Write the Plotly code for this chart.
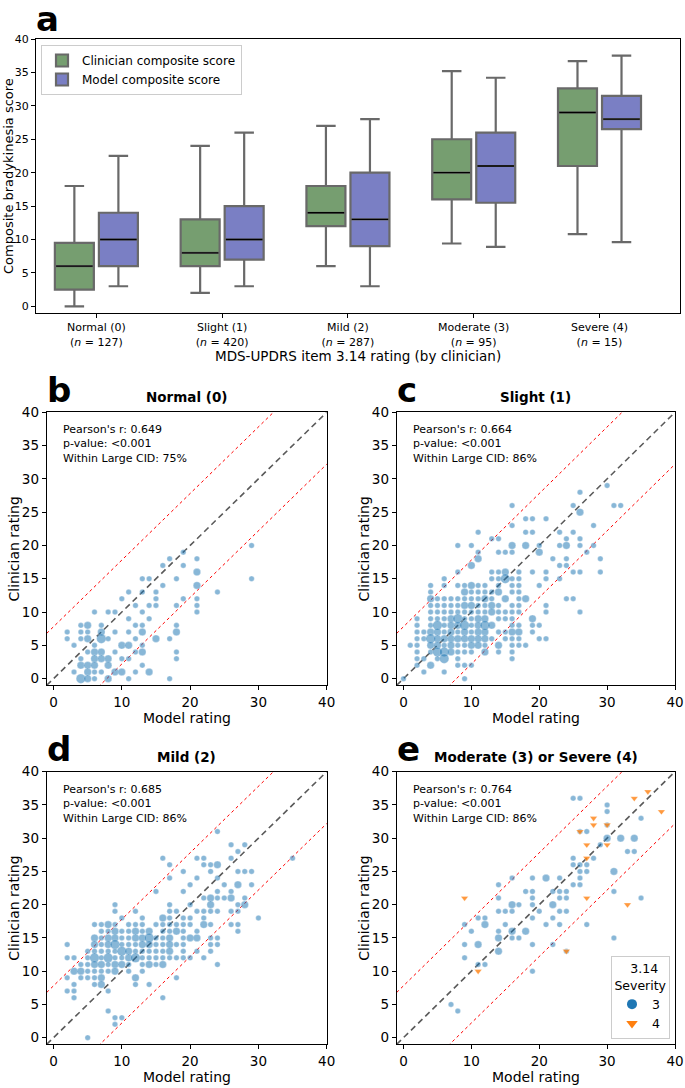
import plotly.graph_objects as go

W, H = 685, 1088

# ---------------- Panel a: box summaries ----------------
categories = ["Normal (0)", "Slight (1)", "Mild (2)", "Moderate (3)", "Severe (4)"]
n_counts = [127, 420, 287, 95, 15]
clin_lower = [0, 2, 6, 9.4, 10.8]
clin_q1 = [2.5, 6, 12, 16, 21]
clin_median = [6, 8, 14, 20, 29]
clin_q3 = [9.5, 13, 18, 25, 32.6]
clin_upper = [18, 24, 27, 35.2, 36.7]
model_lower = [3, 3, 3, 8.9, 9.6]
model_q1 = [6, 7, 9, 15.5, 26.5]
model_median = [10, 10, 13, 21, 28]
model_q3 = [14, 15, 20, 26, 31.5]
model_upper = [22.5, 26, 28, 34.2, 37.5]

# ---------------- Scatter panels: (model rating, clinician rating, count) ----------------
b_points = [
    (29, 20, 1), (19, 19, 1), (17, 18, 1), (21, 18, 1), (16, 17, 1), (19, 17, 1), (21, 16, 2),
    (13, 15, 1), (14, 15, 1), (18, 15, 1), (29, 15, 1), (16, 14, 1), (21, 14, 2),
    (11, 13, 1), (13, 13, 1), (15, 13, 1), (24, 13, 1), (10, 12, 1), (15, 12, 1), (19, 12, 1), (21, 12, 1),
    (12, 11, 1), (14, 11, 1), (15, 11, 1), (18, 11, 1), (21, 11, 1),
    (6, 10, 1), (8, 10, 1), (9, 10, 1), (13, 10, 1), (21, 10, 1), (11, 9, 1), (14, 9, 1),
    (4, 8, 1), (5, 8, 2), (7, 8, 1), (12, 8, 1), (13, 8, 1), (18, 8, 1),
    (2, 7, 1), (4, 7, 1), (5, 7, 1), (7, 7, 2), (9, 7, 1), (11, 7, 1), (13, 7, 2), (18, 7, 2),
    (2, 6, 1), (4, 6, 1), (5, 6, 2), (7, 6, 3), (8, 6, 1), (12, 6, 1), (15, 6, 2), (17, 6, 1),
    (3, 5, 1), (6, 5, 1), (10, 5, 2), (11, 5, 2), (13, 5, 1),
    (5, 4, 1), (6, 4, 2), (7, 4, 2), (9, 4, 1), (12, 4, 1), (13, 4, 2), (18, 4, 1),
    (4, 3, 1), (6, 3, 2), (7, 3, 2), (8, 3, 2), (10, 3, 1), (11, 3, 1), (18, 3, 1),
    (4, 2, 2), (5, 2, 2), (6, 2, 2), (8, 2, 2), (13, 2, 1),
    (3, 1, 1), (5, 1, 2), (6, 1, 1), (7, 1, 1), (9, 1, 2), (10, 1, 2), (12, 1, 1), (14, 1, 2),
    (4, 0, 3), (5, 0, 2), (6, 0, 1), (8, 0, 2), (11, 0, 1), (17, 0, 1),
]

c_points = [
    (30, 29, 1), (26, 28, 1), (16, 26, 1), (25, 26, 1), (31, 26, 1), (32, 26, 1), (26, 25, 2),
    (18, 24, 1), (19, 24, 1), (21, 24, 1), (16, 23, 1), (28, 23, 1),
    (11, 22, 1), (18, 22, 1), (19, 22, 1), (23, 22, 1), (25, 22, 1),
    (13, 21, 1), (14, 21, 1), (24, 21, 1), (26, 21, 1),
    (8, 20, 1), (10, 20, 1), (16, 20, 2), (18, 20, 2), (20, 20, 1), (23, 20, 1), (24, 20, 2), (26, 20, 1), (28, 20, 1),
    (11, 19, 1), (14, 19, 1), (15, 19, 1), (16, 19, 1), (20, 19, 2), (27, 19, 1),
    (11, 18, 2), (22, 18, 1), (24, 18, 1), (29, 18, 1), (10, 17, 2), (23, 17, 1), (24, 17, 1),
    (8, 16, 1), (13, 16, 1), (14, 16, 1), (15, 16, 2), (17, 16, 1), (19, 16, 1), (21, 16, 1), (25, 16, 1), (26, 16, 1), (29, 16, 1),
    (6, 15, 1), (13, 15, 1), (14, 15, 1), (15, 15, 3), (16, 15, 1), (17, 15, 1), (21, 15, 1), (23, 15, 1),
    (4, 14, 1), (6, 14, 1), (8, 14, 1), (9, 14, 1), (10, 14, 2), (11, 14, 1), (12, 14, 1), (14, 14, 1), (16, 14, 1), (17, 14, 1), (20, 14, 1),
    (4, 13, 1), (9, 13, 2), (10, 13, 1), (11, 13, 1), (12, 13, 1), (13, 13, 1), (14, 13, 2), (16, 13, 1), (17, 13, 1),
    (4, 12, 2), (5, 12, 1), (6, 12, 1), (7, 12, 1), (8, 12, 1), (9, 12, 1), (10, 12, 1), (11, 12, 1), (12, 12, 2), (13, 12, 1),
    (15, 12, 2), (17, 12, 1), (18, 12, 2), (24, 12, 1), (25, 12, 1),
    (4, 11, 1), (5, 11, 1), (6, 11, 1), (7, 11, 1), (8, 11, 1), (9, 11, 2), (10, 11, 2), (11, 11, 1), (12, 11, 1), (13, 11, 2),
    (14, 11, 1), (16, 11, 1), (17, 11, 1), (21, 11, 1),
    (4, 10, 1), (5, 10, 1), (6, 10, 1), (7, 10, 1), (8, 10, 1), (9, 10, 1), (10, 10, 1), (11, 10, 1), (12, 10, 1), (13, 10, 2),
    (14, 10, 1), (15, 10, 1), (16, 10, 1), (17, 10, 1), (21, 10, 1), (26, 10, 1),
    (2, 9, 1), (4, 9, 1), (5, 9, 1), (6, 9, 1), (7, 9, 2), (8, 9, 3), (9, 9, 1), (10, 9, 1), (11, 9, 2), (12, 9, 2),
    (14, 9, 1), (15, 9, 1), (16, 9, 1), (19, 9, 2),
    (2, 8, 1), (4, 8, 1), (5, 8, 3), (6, 8, 1), (7, 8, 2), (8, 8, 2), (9, 8, 3), (10, 8, 1), (11, 8, 2), (12, 8, 3),
    (13, 8, 2), (16, 8, 1), (17, 8, 1), (19, 8, 1), (20, 8, 1),
    (2, 7, 1), (3, 7, 1), (4, 7, 2), (5, 7, 2), (6, 7, 1), (7, 7, 2), (8, 7, 1), (9, 7, 2), (10, 7, 1), (11, 7, 2),
    (12, 7, 2), (14, 7, 1), (15, 7, 1), (16, 7, 2), (17, 7, 2), (19, 7, 1),
    (2, 6, 1), (3, 6, 1), (4, 6, 3), (5, 6, 2), (6, 6, 2), (7, 6, 2), (8, 6, 2), (9, 6, 2), (10, 6, 2), (11, 6, 2),
    (12, 6, 2), (13, 6, 1), (15, 6, 1), (16, 6, 1), (17, 6, 1), (20, 6, 1), (21, 6, 1),
    (1, 5, 1), (2, 5, 1), (4, 5, 2), (5, 5, 2), (6, 5, 1), (7, 5, 2), (8, 5, 1), (9, 5, 1), (10, 5, 2), (11, 5, 2),
    (12, 5, 1), (14, 5, 2), (16, 5, 1), (17, 5, 1), (18, 5, 1),
    (2, 4, 1), (4, 4, 1), (5, 4, 3), (6, 4, 3), (7, 4, 2), (8, 4, 1), (9, 4, 1), (10, 4, 1), (12, 4, 2), (14, 4, 1), (16, 4, 1),
    (2, 3, 1), (3, 3, 1), (5, 3, 1), (6, 3, 3), (8, 3, 1), (16, 3, 1),
    (2, 2, 1), (4, 2, 2), (8, 2, 1), (9, 2, 1), (10, 2, 1), (3, 1, 1), (6, 1, 1), (0, 0, 1), (9, 0, 1),
]

d_points = [
    (24, 31, 1), (26, 29, 1), (28, 29, 1), (27, 28, 1),
    (16, 27, 1), (21, 27, 1), (22, 27, 1), (26, 27, 1), (35, 27, 1),
    (17, 26, 1), (22, 26, 1), (23, 26, 1), (24, 26, 2),
    (19, 25, 1), (23, 25, 1), (27, 25, 1), (28, 25, 1), (29, 25, 1), (17, 24, 1), (21, 24, 1), (24, 24, 1),
    (20, 23, 1), (25, 23, 1), (27, 23, 2), (29, 23, 1), (15, 22, 1), (19, 22, 1), (24, 22, 1), (26, 22, 1),
    (22, 21, 1), (23, 21, 2), (24, 21, 1), (25, 21, 1), (26, 21, 2), (28, 21, 1),
    (9, 20, 1), (17, 20, 1), (20, 20, 1), (23, 20, 2), (27, 20, 1), (28, 20, 2),
    (9, 19, 1), (12, 19, 1), (17, 19, 1), (18, 19, 1), (21, 19, 1), (22, 19, 1), (23, 19, 1), (24, 19, 1), (26, 19, 1), (27, 19, 1),
    (10, 18, 1), (13, 18, 1), (16, 18, 2), (17, 18, 1), (19, 18, 1), (20, 18, 1), (22, 18, 1), (30, 18, 1),
    (6, 17, 1), (7, 17, 1), (8, 17, 2), (9, 17, 1), (11, 17, 1), (12, 17, 1), (13, 17, 1), (15, 17, 1), (16, 17, 1),
    (17, 17, 1), (18, 17, 1), (19, 17, 1), (20, 17, 1), (22, 17, 2), (23, 17, 1), (26, 17, 1), (27, 17, 1),
    (7, 16, 1), (8, 16, 1), (9, 16, 2), (10, 16, 1), (11, 16, 1), (12, 16, 2), (13, 16, 1), (14, 16, 2), (16, 16, 1),
    (17, 16, 1), (18, 16, 2), (19, 16, 1), (21, 16, 1), (27, 16, 1),
    (6, 15, 2), (7, 15, 1), (8, 15, 2), (9, 15, 2), (10, 15, 1), (11, 15, 1), (12, 15, 2), (13, 15, 2), (14, 15, 3),
    (15, 15, 1), (16, 15, 1), (17, 15, 2), (19, 15, 1), (20, 15, 2), (21, 15, 2), (23, 15, 1), (24, 15, 1),
    (2, 14, 1), (6, 14, 2), (7, 14, 1), (8, 14, 2), (9, 14, 3), (10, 14, 1), (11, 14, 1), (12, 14, 1), (13, 14, 2),
    (14, 14, 2), (15, 14, 1), (16, 14, 1), (17, 14, 2), (18, 14, 1), (19, 14, 1), (23, 14, 1), (24, 14, 1),
    (5, 13, 1), (6, 13, 1), (7, 13, 1), (8, 13, 1), (9, 13, 1), (10, 13, 3), (11, 13, 2), (12, 13, 1), (13, 13, 1),
    (14, 13, 1), (15, 13, 1), (16, 13, 1), (17, 13, 2), (19, 13, 1), (21, 13, 1), (23, 13, 1),
    (2, 12, 1), (3, 12, 1), (5, 12, 1), (6, 12, 3), (7, 12, 1), (8, 12, 3), (9, 12, 1), (10, 12, 1), (11, 12, 2),
    (12, 12, 3), (13, 12, 1), (14, 12, 1), (15, 12, 1), (16, 12, 1), (17, 12, 1), (18, 12, 1), (19, 12, 1), (20, 12, 1), (22, 12, 1),
    (4, 11, 1), (5, 11, 1), (6, 11, 2), (7, 11, 2), (8, 11, 1), (9, 11, 2), (10, 11, 2), (11, 11, 1), (13, 11, 1),
    (14, 11, 2), (15, 11, 1), (16, 11, 2), (24, 11, 1),
    (3, 10, 2), (4, 10, 2), (5, 10, 1), (6, 10, 1), (7, 10, 1), (8, 10, 1), (9, 10, 2), (11, 10, 1), (13, 10, 1),
    (2, 9, 1), (4, 9, 1), (5, 9, 1), (6, 9, 1), (7, 9, 2), (12, 9, 2), (18, 9, 1),
    (3, 8, 1), (6, 8, 1), (7, 8, 2), (12, 8, 1), (14, 8, 1), (2, 7, 1), (3, 7, 1), (8, 7, 1),
    (3, 6, 1), (16, 6, 1), (8, 4, 1), (9, 3, 1), (10, 3, 1), (9, 2, 1), (5, 0, 1),
]

e_sev3_points = [
    (25, 36, 1), (26, 36, 1), (30, 35, 1), (30, 34, 1), (35, 33, 1), (30, 32, 1), (26, 31, 1), (27, 31, 1),
    (30, 30, 2), (32, 30, 2), (34, 30, 2), (29, 29, 1), (33, 28, 1), (34, 28, 1), (25, 27, 1), (28, 27, 1),
    (25, 26, 1), (26, 26, 1), (27, 26, 1), (26, 25, 1), (27, 25, 1), (31, 25, 2),
    (16, 24, 1), (19, 24, 1), (21, 24, 2), (23, 24, 1), (26, 24, 1), (14, 23, 1), (25, 23, 1), (26, 23, 1),
    (18, 22, 1), (19, 22, 1), (22, 22, 1), (23, 22, 1), (24, 22, 1), (31, 22, 1),
    (14, 21, 1), (19, 21, 1), (23, 21, 1), (24, 21, 1), (35, 21, 1),
    (16, 20, 2), (17, 20, 1), (19, 20, 1), (22, 20, 2),
    (14, 19, 1), (15, 19, 1), (16, 19, 1), (20, 19, 1), (23, 19, 1), (24, 19, 1),
    (11, 18, 1), (12, 18, 1), (19, 18, 1), (22, 18, 1),
    (9, 17, 1), (12, 17, 2), (15, 17, 1), (21, 17, 1), (23, 17, 1), (27, 17, 1),
    (10, 16, 1), (14, 16, 1), (16, 16, 2), (18, 16, 2), (14, 15, 2), (16, 15, 1), (17, 15, 1), (31, 15, 1),
    (9, 14, 1), (11, 14, 2), (19, 14, 1), (22, 14, 1), (14, 13, 2), (24, 13, 1), (9, 12, 1),
    (11, 11, 1), (12, 11, 1), (19, 10, 1), (7, 5, 1), (8, 4, 1),
]
e_sev4_points = [
    (36, 37), (34, 36), (38, 34), (28, 33), (28, 32), (30, 32), (26, 31), (27, 29), (30, 29),
    (27, 27), (9, 21), (27, 21), (33, 20), (24, 13), (11, 10),
]

panel_titles = ["Normal (0)", "Slight (1)", "Mild (2)", "Moderate (3) or Severe (4)"]
pearson_r = ["0.649", "0.664", "0.685", "0.764"]
within_cid = ["75%", "86%", "86%", "86%"]
CID = 7.8

# ---------------- styling ----------------
GREEN = "rgb(118,158,112)"
PURPLE = "rgb(122,127,196)"
EDGE = "rgb(105,105,105)"
BLUE = "rgba(31,119,180,0.75)"
ORANGE = "rgba(255,127,14,0.8)"
FONT = "DejaVu Sans"


def fx(p):
    return p / W


def fy(p):
    return 1 - p / H


fig = go.Figure()

# ---------------- Panel a ----------------
idx = list(range(len(categories)))
BOX_OFF = 0.175
BOX_W = 0.31
for name, off, color, lo, q1, med, q3, up in [
    ("Clinician composite score", -BOX_OFF, GREEN, clin_lower, clin_q1, clin_median, clin_q3, clin_upper),
    ("Model composite score", BOX_OFF, PURPLE, model_lower, model_q1, model_median, model_q3, model_upper),
]:
    pos = [i + off for i in idx]
    fig.add_trace(go.Box(
        x=pos, q1=q1, median=med, q3=q3, lowerfence=lo, upperfence=up,
        width=BOX_W, whiskerwidth=0.5, fillcolor=color,
        line=dict(color=EDGE, width=2.2), name=name, boxpoints=False,
        xaxis="x", yaxis="y", legend="legend", hoverinfo="skip",
    ))
    mx, my = [], []
    for p, m in zip(pos, med):
        mx += [p - BOX_W / 2 + 0.01, p + BOX_W / 2 - 0.01, None]
        my += [m, m, None]
    fig.add_trace(go.Scatter(x=mx, y=my, mode="lines", line=dict(color="black", width=1.3),
                             showlegend=False, xaxis="x", yaxis="y", hoverinfo="skip"))

# ---------------- Scatter panels ----------------
SIZE = {1: 5.5, 2: 7.5, 3: 9.5}
panels = [
    ("x2", "y2", b_points),
    ("x3", "y3", c_points),
    ("x4", "y4", d_points),
    ("x5", "y5", e_sev3_points),
]
line_x = [-1, 41]
for xa, ya, pts in panels:
    fig.add_trace(go.Scatter(x=line_x, y=[v + CID for v in line_x], mode="lines",
                             line=dict(color="red", width=1, dash="dot"), showlegend=False,
                             xaxis=xa, yaxis=ya, hoverinfo="skip"))
    fig.add_trace(go.Scatter(x=line_x, y=[v - CID for v in line_x], mode="lines",
                             line=dict(color="red", width=1, dash="dot"), showlegend=False,
                             xaxis=xa, yaxis=ya, hoverinfo="skip"))
    fig.add_trace(go.Scatter(x=line_x, y=line_x, mode="lines",
                             line=dict(color="rgb(90,90,90)", width=1.6, dash="6px,4px"), showlegend=False,
                             xaxis=xa, yaxis=ya, hoverinfo="skip"))
    fig.add_trace(go.Scatter(
        x=[p[0] for p in pts], y=[p[1] for p in pts], mode="markers",
        marker=dict(size=[SIZE[p[2]] for p in pts], color=BLUE, line=dict(color="white", width=0.3)),
        showlegend=False, xaxis=xa, yaxis=ya, hoverinfo="skip", cliponaxis=False,
    ))

fig.add_trace(go.Scatter(
    x=[p[0] for p in e_sev4_points], y=[p[1] for p in e_sev4_points], mode="markers",
    marker=dict(size=6.5, symbol="triangle-down", color=ORANGE, line=dict(color="white", width=0.3)),
    showlegend=False, xaxis="x5", yaxis="y5", hoverinfo="skip",
))
fig.add_trace(go.Scatter(x=[None], y=[None], mode="markers", name="3",
                         marker=dict(size=10, color="rgb(31,119,180)"), legend="legend2",
                         xaxis="x5", yaxis="y5"))
fig.add_trace(go.Scatter(x=[None], y=[None], mode="markers", name="4",
                         marker=dict(size=10, symbol="triangle-down", color="rgb(255,127,14)"),
                         legend="legend2", xaxis="x5", yaxis="y5"))

# ---------------- layout ----------------
A_L, A_R, A_T, A_B = 36, 680, 39, 313
dom = {
    "2": (46.7, 326.7, 412.3, 685.3),
    "3": (396.7, 675.0, 412.3, 685.3),
    "4": (46.7, 326.7, 771.7, 1044.3),
    "5": (396.7, 675.0, 771.7, 1044.3),
}

axis_common = dict(showline=True, linecolor="black", linewidth=1, mirror=True, ticks="outside",
                   ticklen=4, tickcolor="black", showgrid=False, zeroline=False, automargin=False)

layout = dict(
    width=W, height=H, margin=dict(l=0, r=0, t=0, b=0, pad=0), autosize=False,
    plot_bgcolor="white", paper_bgcolor="white",
    font=dict(family=FONT, color="black"),
    boxmode="overlay",
    xaxis=dict(domain=[fx(A_L), fx(A_R)], range=[-0.48, 4.64], tickvals=idx,
               ticktext=[f"{c}<br>(<i>n</i> = {n})" for c, n in zip(categories, n_counts)],
               tickfont=dict(size=11), **axis_common),
    yaxis=dict(domain=[fy(A_B), fy(A_T)], range=[-1, 40], tickvals=list(range(0, 41, 5)),
               tickfont=dict(size=11), **axis_common),
    legend=dict(x=fx(41), y=fy(45), xanchor="left", yanchor="top", bgcolor="white",
                bordercolor="rgb(204,204,204)", borderwidth=1, font=dict(size=12), itemwidth=30,
                tracegroupgap=2),
    legend2=dict(x=fx(670), y=fy(1039), xanchor="right", yanchor="bottom", bgcolor="white",
                 bordercolor="rgb(204,204,204)", borderwidth=1, font=dict(size=12.5),
                 title=dict(text="&nbsp;&nbsp;&nbsp;&nbsp;3.14<br>Severity", side="top center",
                            font=dict(size=12.5)),
                 itemwidth=30),
)
for k, (l, r, t, b) in dom.items():
    layout[f"xaxis{k}"] = dict(domain=[fx(l), fx(r)], range=[-1, 40], tickvals=list(range(0, 41, 10)),
                               tickfont=dict(size=13.5), anchor=f"y{k}", **axis_common)
    layout[f"yaxis{k}"] = dict(domain=[fy(b), fy(t)], range=[-1, 40], tickvals=list(range(0, 41, 5)),
                               tickfont=dict(size=13.5), anchor=f"x{k}", **axis_common)
layout["xaxis"]["anchor"] = "y"
layout["yaxis"]["anchor"] = "x"
fig.update_layout(**layout)


def note(text, x, y, size, xanchor="center", yanchor="middle", angle=0, align="center"):
    return dict(text=text, x=fx(x), y=fy(y), xref="paper", yref="paper", xanchor=xanchor,
                yanchor=yanchor, textangle=angle, align=align, showarrow=False, font=dict(size=size))


ann = []
for letter, x0, ytop in [("a", A_L, -3), ("b", 46.7, 368), ("c", 396.7, 368), ("d", 46.7, 727), ("e", 396.7, 727)]:
    ann.append(note(f"<b>{letter}</b>", x0 - 2, ytop, 34, xanchor="left", yanchor="top"))
ann.append(note("Composite bradykinesia score", 9, (A_T + A_B) / 2, 13, angle=-90))
ann.append(note("MDS-UPDRS item 3.14 rating (by clinician)", (A_L + A_R) / 2, 356, 13.5))
for (k, (l, r, t, b)), title, rr, cid in zip(dom.items(), panel_titles, pearson_r, within_cid):
    ann.append(note(f"<b>{title}</b>", (l + r) / 2, t - 5, 13.5, yanchor="bottom"))
    ann.append(note(f"Pearson's r: {rr}<br>p-value: &lt;0.001<br>Within Large CID: {cid}",
                    l + 14, t + 9, 11, xanchor="left", yanchor="top", align="left"))
    ann.append(note("Model rating", (l + r) / 2, b + 33, 14))
    ann.append(note("Clinician rating", l - 33, (t + b) / 2, 14, angle=-90))
fig.update_layout(annotations=ann)

fig.write_html("out.html", config={"displayModeBar": False},
               post_script="document.body.style.margin='0px';document.body.style.overflow='hidden';")
